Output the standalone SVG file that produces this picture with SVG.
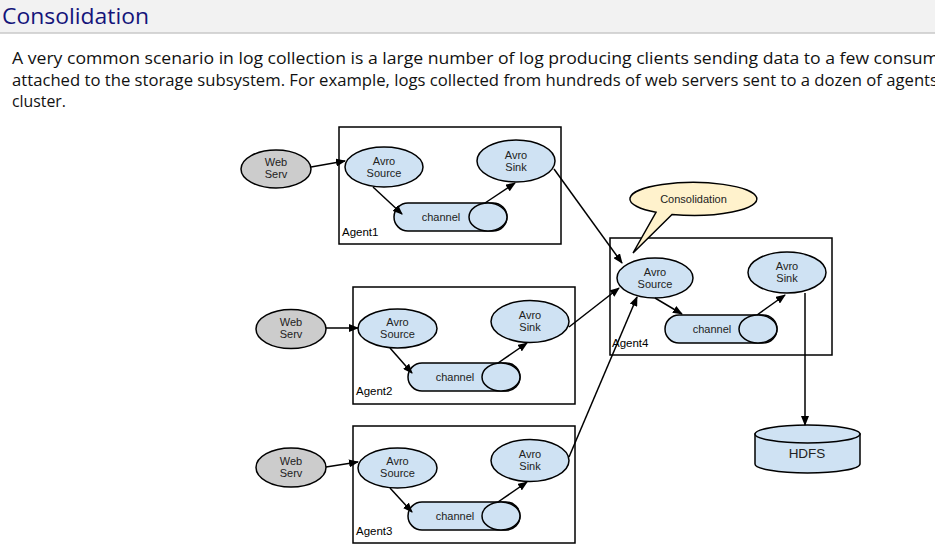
<svg xmlns="http://www.w3.org/2000/svg" width="935" height="551" viewBox="0 0 935 551">
<defs>
<marker id="ah" markerWidth="10" markerHeight="8" refX="9" refY="4" orient="auto" markerUnits="userSpaceOnUse">
<path d="M0,0 L10,4 L0,8 z" fill="#000"/>
</marker>
<style>
.hdr{font-family:"Open Sans","Noto Sans",sans-serif;font-size:22px;fill:#14147a}
.body{font-family:"Open Sans","Noto Sans",sans-serif;font-size:16px;fill:#111}
.box{fill:none;stroke:#000;stroke-width:1.5}
.web{fill:#cccccc;stroke:#000;stroke-width:1.5}
.blue{fill:#cfe2f3;stroke:#000;stroke-width:1.5}
.call{fill:#fff2cc;stroke:#000;stroke-width:1.5}
.t{font-family:"Liberation Sans",Arial,sans-serif;font-size:11px;fill:#222;text-anchor:middle}
.lbl{font-family:"Liberation Sans",Arial,sans-serif;font-size:11.5px;fill:#000}
.c{fill:none;stroke:#000;stroke-width:1.5;marker-end:url(#ah)}
</style>
</defs>
<rect x="0" y="0" width="935" height="33" fill="#f2f2f2"/>
<line x1="0" y1="33" x2="935" y2="33" stroke="#c8c8c8" stroke-width="1.5"/>
<text class="hdr" x="2" y="24" textLength="147" lengthAdjust="spacingAndGlyphs">Consolidation</text>
<text class="body" x="12" y="64" textLength="944" lengthAdjust="spacingAndGlyphs">A very common scenario in log collection is a large number of log producing clients sending data to a few consumer</text>
<text class="body" x="12" y="86" textLength="926" lengthAdjust="spacingAndGlyphs">attached to the storage subsystem. For example, logs collected from hundreds of web servers sent to a dozen of agents</text>
<text class="body" x="12" y="107" textLength="54" lengthAdjust="spacingAndGlyphs">cluster.</text>

<g id="agent1">
<rect class="box" x="339" y="127" width="222" height="117"/>
<text class="lbl" x="342" y="236">Agent1</text>
</g>
<g id="web1"><ellipse class="web" cx="276" cy="169" rx="35" ry="19"/><text class="t" x="276" y="166">Web</text><text class="t" x="276" y="178">Serv</text></g>
<g id="src1"><ellipse class="blue" cx="384" cy="167" rx="39" ry="20"/><text class="t" x="384" y="165">Avro</text><text class="t" x="384" y="177">Source</text></g>
<g id="sink1"><ellipse class="blue" cx="516" cy="161" rx="39" ry="21"/><text class="t" x="516" y="159">Avro</text><text class="t" x="516" y="171">Sink</text></g>
<g id="ch1"><rect class="blue" x="394" y="203" width="113" height="28" rx="14" ry="14"/><ellipse class="blue" cx="488" cy="217" rx="19" ry="14"/><text class="t" x="441" y="221">channel</text></g>

<g id="agent2">
<rect class="box" x="353" y="287" width="222" height="117"/>
<text class="lbl" x="356" y="395">Agent2</text>
</g>
<g id="web2"><ellipse class="web" cx="291" cy="329" rx="35" ry="19.5"/><text class="t" x="291" y="326">Web</text><text class="t" x="291" y="338">Serv</text></g>
<g id="src2"><ellipse class="blue" cx="397.5" cy="328.5" rx="39.5" ry="19.5"/><text class="t" x="397.5" y="326">Avro</text><text class="t" x="397.5" y="338">Source</text></g>
<g id="sink2"><ellipse class="blue" cx="530" cy="321.5" rx="39" ry="21"/><text class="t" x="530" y="319">Avro</text><text class="t" x="530" y="331">Sink</text></g>
<g id="ch2"><rect class="blue" x="408" y="363" width="112" height="28" rx="14" ry="14"/><ellipse class="blue" cx="501" cy="377" rx="19" ry="14"/><text class="t" x="455" y="381">channel</text></g>

<g id="agent3">
<rect class="box" x="353" y="426" width="222" height="117"/>
<text class="lbl" x="356" y="535">Agent3</text>
</g>
<g id="web3"><ellipse class="web" cx="291" cy="467.5" rx="35" ry="19.5"/><text class="t" x="291" y="465">Web</text><text class="t" x="291" y="477">Serv</text></g>
<g id="src3"><ellipse class="blue" cx="397.5" cy="468" rx="39.5" ry="20"/><text class="t" x="397.5" y="465">Avro</text><text class="t" x="397.5" y="477">Source</text></g>
<g id="sink3"><ellipse class="blue" cx="530" cy="460.5" rx="39" ry="21"/><text class="t" x="530" y="458">Avro</text><text class="t" x="530" y="470">Sink</text></g>
<g id="ch3"><rect class="blue" x="408" y="502" width="112" height="28" rx="14" ry="14"/><ellipse class="blue" cx="501" cy="516" rx="19" ry="14"/><text class="t" x="455" y="520">channel</text></g>

<g id="agent4">
<rect class="box" x="610" y="238" width="222" height="117"/>
<text class="lbl" x="612" y="347">Agent4</text>
</g>
<g id="src4"><ellipse class="blue" cx="655" cy="278" rx="38" ry="20"/><text class="t" x="655" y="276">Avro</text><text class="t" x="655" y="288">Source</text></g>
<g id="sink4"><ellipse class="blue" cx="787" cy="272.5" rx="39" ry="20.5"/><text class="t" x="787" y="270">Avro</text><text class="t" x="787" y="282">Sink</text></g>
<g id="ch4"><rect class="blue" x="665" y="315" width="112" height="28" rx="14" ry="14"/><ellipse class="blue" cx="758" cy="329" rx="19" ry="14"/><text class="t" x="712" y="333">channel</text></g>

<g id="callout">
<path class="call" d="M656,212.3 A63.5,16.5 0 1 1 672,214.5 L633,253 Z"/>
<text class="t" x="693.5" y="203">Consolidation</text>
</g>

<g id="hdfs">
<path class="blue" d="M755,434 L755,464 A52.5,9 0 0 0 860,464 L860,434 Z"/>
<ellipse class="blue" cx="807.5" cy="434" rx="52.5" ry="9"/>
<text class="t" x="807" y="458" style="font-size:13.5px">HDFS</text>
</g>

<g id="connectors">
<line class="c" x1="311" y1="167" x2="345" y2="161"/>
<line class="c" x1="373" y1="187" x2="402" y2="214"/>
<line class="c" x1="485" y1="203" x2="515" y2="183"/>
<line class="c" x1="326" y1="328" x2="358" y2="328"/>
<line class="c" x1="390" y1="348" x2="412" y2="373"/>
<line class="c" x1="498" y1="363" x2="527" y2="343"/>
<line class="c" x1="326" y1="467" x2="358" y2="462"/>
<line class="c" x1="390" y1="488" x2="412" y2="512"/>
<line class="c" x1="498" y1="502" x2="527" y2="482"/>
<line class="c" x1="655" y1="298" x2="682" y2="314"/>
<line class="c" x1="757" y1="315" x2="785" y2="295"/>
<line class="c" x1="554" y1="169" x2="622" y2="263"/>
<line class="c" x1="569" y1="327" x2="619" y2="288"/>
<line class="c" x1="569" y1="457" x2="637" y2="297"/>
<line class="c" x1="805" y1="293" x2="805" y2="425"/>
</g>
</svg>
